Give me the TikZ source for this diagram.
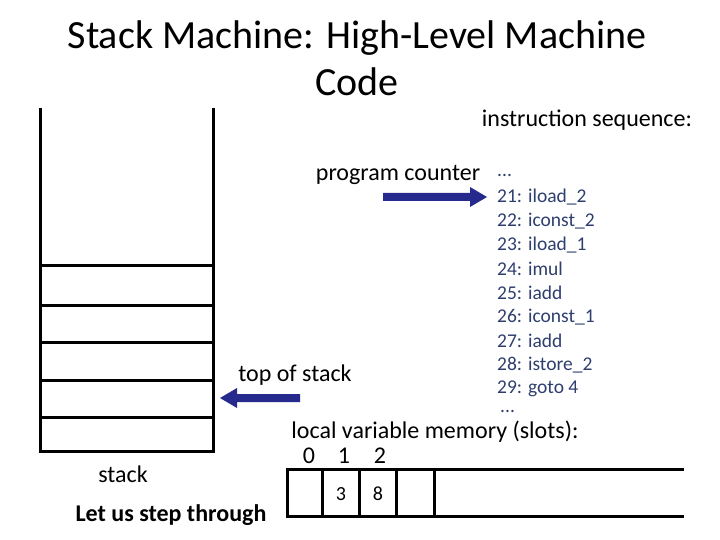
\documentclass[tikz,border=0pt]{standalone}
\usepackage{fontspec}
\setmainfont{Carlito}
\definecolor{codec}{HTML}{2E3F6E}
\definecolor{arrc}{HTML}{262A8C}
\begin{document}
\begin{tikzpicture}[x=1pt,y=-1pt,
  bar/.style={line width=3pt},
  arr/.style={draw=none,fill=arrc},
  code/.style={anchor=west,text=codec,font=\fontsize{19.5}{22}\selectfont,inner sep=0},
  txt/.style={font=\fontsize{24}{26}\selectfont,inner sep=0}]
\useasboundingbox (0,0) rectangle (720,540);
\node[font=\fontsize{40}{47}\selectfont,align=center] (title) at (357,58) {Stack Machine: High-Level Machine\\Code};
\node[txt] (is) at (587,120) {instruction sequence:};
\node[txt] (pc) at (398,175) {program counter};
\node[txt] (tos) at (295,375) {top of stack};
\node[txt] (st) at (123,474) {stack};
\node[txt,font=\bfseries\fontsize{24}{26}\selectfont] (let) at (171,515) {Let us step through};
\node[txt] (lvm) at (435,432) {local variable memory (slots):};
% stack
\draw[bar] (40,108) -- (40,451) -- (213,451) -- (213,108);
\foreach \y in {265,305,342,380,417} \draw[bar] (40,\y) -- (213,\y);
% arrows
\fill[arr] (383,193) -- (470,193) -- (470,187) -- (487,197) -- (470,207) -- (470,201) -- (383,201) -- cycle;
\fill[arr] (300,394) -- (237,394) -- (237,388) -- (220,398) -- (237,408) -- (237,402) -- (300,402) -- cycle;
% code
\node[code] (c0) at (497,175) {...};
\foreach \t [count=\i] in {21: iload\_2,22: iconst\_2,23: iload\_1,24: imul,25: iadd,26: iconst\_1,27: iadd,28: istore\_2,29: goto 4}
  \node[code] (c\i) at (497,173+24*\i) {\t};
\node[code] (c10) at (500,411) {...};
% memory
\draw[bar] (684,469) -- (287,469) -- (287,516) -- (684,516);
\foreach \x in {322,359,396,434} \draw[bar] (\x,469) -- (\x,516);
\node[txt] (s0) at (309,456) {0};
\node[txt] (s1) at (344,456) {1};
\node[txt] (s2) at (380,456) {2};
\node[txt,font=\fontsize{20}{22}\selectfont] (v1) at (341,494) {3};
\node[txt,font=\fontsize{20}{22}\selectfont] (v2) at (378,494) {8};
\end{tikzpicture}
\end{document}
